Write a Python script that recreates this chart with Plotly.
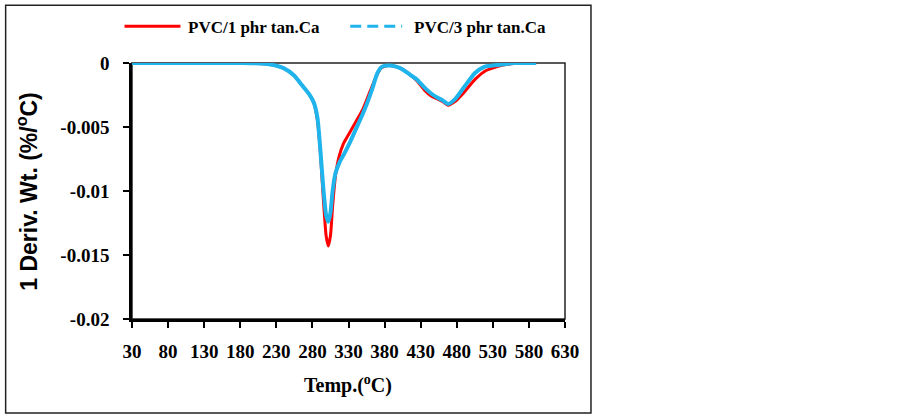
import plotly.graph_objects as go

# ---- data ----
temp_red = [30, 80, 130, 180, 200, 220, 240, 255, 265, 275, 282, 287, 291, 295, 299, 302, 305,
            308, 312, 317, 323, 330, 340, 350, 360, 368, 375, 385, 397, 405, 415, 425, 435, 445,
            453, 460, 468, 478, 490, 505, 520, 535, 550, 565, 590]
deriv_red = [0, 0, 0, 0, -0.00002, -0.0001, -0.0004, -0.0010, -0.0017, -0.0024, -0.0031, -0.0045,
             -0.0070, -0.0105, -0.0135, -0.0143, -0.0135, -0.0112, -0.0088, -0.0073, -0.0063,
             -0.0056, -0.0046, -0.0036, -0.0022, -0.0011, -0.0004, -0.0002, -0.0003, -0.0005,
             -0.0009, -0.0014, -0.0021, -0.0026, -0.0028, -0.0030, -0.0033, -0.0030, -0.0023,
             -0.0013, -0.0006, -0.0003, -0.0001, 0, 0]

temp_blue = [30, 80, 130, 180, 200, 220, 240, 255, 265, 275, 282, 287, 291, 295, 299, 302, 305,
             308, 312, 318, 324, 332, 340, 348, 356, 363, 370, 376, 385, 397, 405, 415, 425, 435,
             445, 453, 460, 468, 478, 490, 505, 518, 530, 545, 560, 590]
deriv_blue = [0, 0, 0, 0, -0.00002, -0.0001, -0.0004, -0.0010, -0.0017, -0.0024, -0.0031, -0.0043,
              -0.0068, -0.0097, -0.0119, -0.0124, -0.0117, -0.0100, -0.0086, -0.0077, -0.0071,
              -0.0062, -0.0052, -0.0042, -0.0031, -0.0020, -0.0008, -0.0003, -0.0002, -0.0003,
              -0.0005, -0.0009, -0.0013, -0.0019, -0.0024, -0.0027, -0.0029, -0.0032, -0.0028,
              -0.0019, -0.0008, -0.0003, -0.0002, -0.0001, 0, 0]

series_names = ["PVC/1 phr tan.Ca", "PVC/3 phr tan.Ca"]
x_ticks = [30, 80, 130, 180, 230, 280, 330, 380, 430, 480, 530, 580, 630]
y_ticks = [0, -0.005, -0.01, -0.015, -0.02]
y_tick_text = ["0", "-0.005", "-0.01", "-0.015", "-0.02"]

RED = "#FF0000"
BLUE = "#1FB4EC"
SERIF = "Liberation Serif"

fig = go.Figure()
fig.add_trace(go.Scatter(x=temp_red, y=deriv_red, mode="lines", name=series_names[0],
                         line=dict(color=RED, width=3, shape="spline", smoothing=0.6),
                         showlegend=False))
fig.add_trace(go.Scatter(x=temp_blue, y=deriv_blue, mode="lines", name=series_names[1],
                         line=dict(color=BLUE, width=4, shape="spline", smoothing=0.6),
                         showlegend=False))

L, R, T, B = 131.5, 565.0, 62.7, 319.0
W, H = 902, 415
def px(x):
    return (x - L) / (R - L)
def py(y):
    return (B - y) / (B - T)

shapes = [
    dict(type="rect", xref="paper", yref="paper", x0=0, x1=1, y0=0, y1=1,
         line=dict(color="#222", width=1.5), layer="below"),
    dict(type="rect", xref="paper", yref="paper", x0=px(5), x1=px(591), y0=py(413), y1=py(5),
         line=dict(color="#222", width=1.5)),
    dict(type="line", xref="paper", yref="paper", x0=px(124), x1=px(180), y0=py(26), y1=py(26),
         line=dict(color=RED, width=3)),
    dict(type="line", xref="paper", yref="paper", x0=px(350), x1=px(402), y0=py(26), y1=py(26),
         line=dict(color=BLUE, width=3, dash="11px,6px")),
]

annotations = [
    dict(text=series_names[0], xref="paper", yref="paper", x=px(186), y=py(27),
         xanchor="left", yanchor="middle", showarrow=False,
         font=dict(family=SERIF, size=17, color="black", weight="bold")),
    dict(text=series_names[1], xref="paper", yref="paper", x=px(412), y=py(27),
         xanchor="left", yanchor="middle", showarrow=False,
         font=dict(family=SERIF, size=17, color="black", weight="bold")),
    dict(text="1 Deriv. Wt. (%/<sup>o</sup>C)", xref="paper", yref="paper", x=px(27), y=py(191),
         xanchor="center", yanchor="middle", textangle=-90, showarrow=False,
         font=dict(family="Liberation Sans", size=23, color="black", weight="bold")),
    dict(text="Temp.(<sup>o</sup>C)", xref="paper", yref="paper", x=px(348), y=py(385),
         xanchor="center", yanchor="middle", showarrow=False,
         font=dict(family=SERIF, size=20, color="black", weight="bold")),
]

fig.update_layout(
    width=W, height=H,
    margin=dict(l=L, r=W - R, t=T, b=H - B, pad=0),
    paper_bgcolor="white", plot_bgcolor="white",
    showlegend=False,
    shapes=shapes, annotations=annotations,
    xaxis=dict(range=[30, 630], tickvals=x_ticks, ticktext=[str(v) for v in x_ticks],
               showgrid=False, zeroline=False, showline=True, linecolor="black", linewidth=2.5,
               ticks="outside", ticklen=6, tickwidth=2, tickcolor="black", ticklabelstandoff=7,
               tickfont=dict(family=SERIF, size=19, color="black", weight="bold")),
    yaxis=dict(range=[-0.02, 0], tickvals=y_ticks, ticktext=y_tick_text,
               showgrid=False, zeroline=False, showline=True, linecolor="black", linewidth=2.5,
               ticks="outside", ticklen=6, tickwidth=2, tickcolor="black", ticklabelstandoff=10,
               tickfont=dict(family=SERIF, size=19, color="black", weight="bold")),
)

fig.write_html("out.html", config={"displayModeBar": False},
               post_script="document.body.style.margin='0';document.body.style.overflow='hidden';")
